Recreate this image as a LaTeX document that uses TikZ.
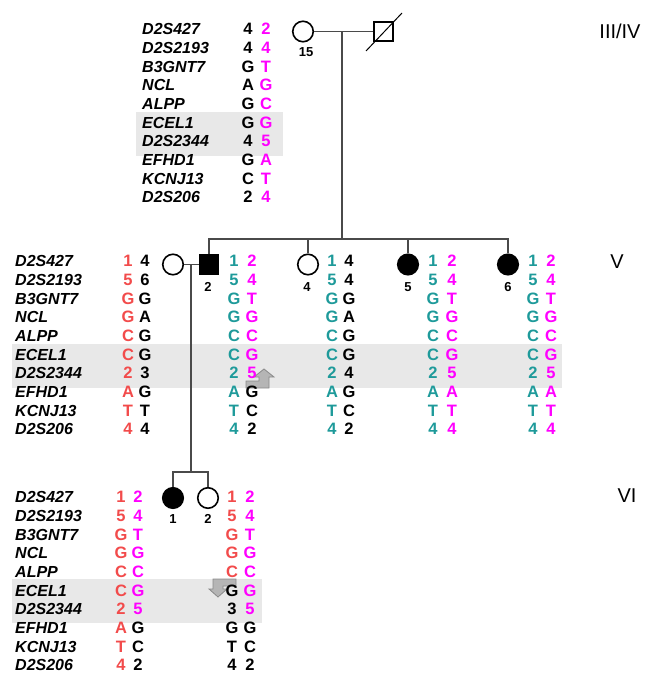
\documentclass[tikz,border=0pt]{standalone}
\usepackage{fontspec}
\setmainfont{Liberation Sans}

\definecolor{rd}{HTML}{F24B4B}
\definecolor{mg}{HTML}{FF00FF}
\definecolor{tl}{HTML}{1E9A9A}
\colorlet{bk}{black}
\definecolor{shade}{HTML}{E8E8E8}
\definecolor{pedline}{HTML}{4A4A4A}
\definecolor{arrowfill}{HTML}{B5B5B5}
\definecolor{arrowedge}{HTML}{8A8A8A}

\tikzset{
  marker/.style={anchor=west, inner sep=0pt, text height=0.72em, text depth=0pt,
    font=\fontsize{16}{16}\selectfont\bfseries\itshape},
  allele/.style={anchor=center, inner sep=0pt, text height=0.72em, text depth=0pt,
    font=\fontsize{16.5}{16}\selectfont\bfseries},
  idlabel/.style={inner sep=0pt, text height=0.72em, text depth=0pt,
    font=\fontsize{13}{13}\selectfont\bfseries},
  genlabel/.style={inner sep=0pt, text height=0.72em, text depth=0pt,
    font=\fontsize{20}{20}\selectfont},
  female/.style={circle, draw=black, line width=1.6pt, minimum size=20.5pt, inner sep=0pt},
  male/.style={rectangle, draw=black, line width=1.6pt, minimum size=19pt, inner sep=0pt},
  affected/.style={fill=black},
  pedigree/.style={draw=pedline, line width=1.3pt},
  shadebox/.style={fill=shade, draw=none},
  crossover/.style={fill=arrowfill, draw=arrowedge, line width=0.8pt, line join=miter},
}

% column of marker names, starting at row y0
\newcommand{\markernames}[3]{%
  \foreach \m [count=\i] in {D2S427,D2S2193,B3GNT7,NCL,ALPP,ECEL1,D2S2344,EFHD1,KCNJ13,D2S206}
    \node[marker] (#1-\i) at (#2, {#3+(\i-1)*18.7}) {\m};%
}
% column of alleles: entries letter/colour
\newcommand{\allelecol}[4]{%
  \foreach \a/\c [count=\i] in {#4}
    \node[allele, text=\c] (#1-\i) at (#2, {#3+(\i-1)*18.7}) {\a};%
}

\begin{document}
\begin{tikzpicture}[x=1pt, y=-1pt]
\useasboundingbox (0,0) rectangle (647,675);

% shaded ECEL1 / D2S2344 rows
\fill[shadebox] (136,112) rectangle (283,156);
\fill[shadebox] (12,344) rectangle (562,388);
\fill[shadebox] (12,579) rectangle (262,623);

% recombination arrows
\draw[crossover] (246,388) -- (246,381) -- (259,381) -- (259,377) -- (254,377)
  -- (264,369) -- (274,377) -- (269,377) -- (269,388) -- cycle;
\draw[crossover] (236,579) -- (236,586) -- (223,586) -- (223,589) -- (227,589)
  -- (218,597) -- (209,589) -- (213,589) -- (213,579) -- cycle;

% ---------- generation III/IV ----------
\node[female] (f15) at (303,31.5) {};
\node[male] (m16) at (383.5,31.5) {};
\draw[line width=1pt, black] (m16.center) ++(-17.5,19.5) -- ++(36,-38);
\draw[pedigree] (f15.east) -- (m16.west);
\node[idlabel] (l15) at (306,53) {15};

\markernames{m3}{142}{31}
\allelecol{p15a}{248}{31}{4/bk,4/bk,G/bk,A/bk,G/bk,G/bk,4/bk,G/bk,C/bk,2/bk}
\allelecol{p15b}{266}{31}{2/mg,4/mg,T/mg,G/mg,C/mg,G/mg,5/mg,A/mg,T/mg,4/mg}

% ---------- generation V ----------
\node[female] (sp) at (173,264.5) {};
\node[male, affected] (v2) at (209,264.5) {};
\node[female] (v4) at (308,264.5) {};
\node[female, affected] (v5) at (408,264.5) {};
\node[female, affected] (v6) at (508,264.5) {};

\node[idlabel] (lv2) at (208,288) {2};
\node[idlabel] (lv4) at (307,288) {4};
\node[idlabel] (lv5) at (408,288) {5};
\node[idlabel] (lv6) at (508,288) {6};

\coordinate (u3) at (342,31.5);
\coordinate (s5) at (342,239);
\draw[pedigree] (u3) -- (s5);
\draw[pedigree] (v2.north) -- (v2.north |- s5) -- (v6.north |- s5) -- (v6.north);
\draw[pedigree] (v4.north) -- (v4.north |- s5);
\draw[pedigree] (v5.north) -- (v5.north |- s5);
\draw[pedigree] (sp.east) -- (v2.west);

\markernames{m5}{15}{263}
\allelecol{spa}{128}{263}{1/rd,5/rd,G/rd,G/rd,C/rd,C/rd,2/rd,A/rd,T/rd,4/rd}
\allelecol{spb}{145}{263}{4/bk,6/bk,G/bk,A/bk,G/bk,G/bk,3/bk,G/bk,T/bk,4/bk}
\allelecol{v2a}{234}{263}{1/tl,5/tl,G/tl,G/tl,C/tl,C/tl,2/tl,A/tl,T/tl,4/tl}
\allelecol{v2b}{252}{263}{2/mg,4/mg,T/mg,G/mg,C/mg,G/mg,5/mg,G/bk,C/bk,2/bk}
\allelecol{v4a}{332}{263}{1/tl,5/tl,G/tl,G/tl,C/tl,C/tl,2/tl,A/tl,T/tl,4/tl}
\allelecol{v4b}{349}{263}{4/bk,4/bk,G/bk,A/bk,G/bk,G/bk,4/bk,G/bk,C/bk,2/bk}
\allelecol{v5a}{433}{263}{1/tl,5/tl,G/tl,G/tl,C/tl,C/tl,2/tl,A/tl,T/tl,4/tl}
\allelecol{v5b}{452}{263}{2/mg,4/mg,T/mg,G/mg,C/mg,G/mg,5/mg,A/mg,T/mg,4/mg}
\allelecol{v6a}{533}{263}{1/tl,5/tl,G/tl,G/tl,C/tl,C/tl,2/tl,A/tl,T/tl,4/tl}
\allelecol{v6b}{551}{263}{2/mg,4/mg,T/mg,G/mg,C/mg,G/mg,5/mg,A/mg,T/mg,4/mg}

% ---------- generation VI ----------
\node[female, affected] (w1) at (173,498) {};
\node[female] (w2) at (208,498) {};
\node[idlabel] (lw1) at (173,520) {1};
\node[idlabel] (lw2) at (208,520) {2};

\coordinate (u5) at (191,264.5);
\coordinate (s6) at (191,472);
\draw[pedigree] (u5) -- (s6);
\draw[pedigree] (w1.north) -- (w1.north |- s6) -- (w2.north |- s6) -- (w2.north);

\markernames{m6}{15}{499}
\allelecol{w1a}{121}{499}{1/rd,5/rd,G/rd,G/rd,C/rd,C/rd,2/rd,A/rd,T/rd,4/rd}
\allelecol{w1b}{138}{499}{2/mg,4/mg,T/mg,G/mg,C/mg,G/mg,5/mg,G/bk,C/bk,2/bk}
\allelecol{w2a}{232}{499}{1/rd,5/rd,G/rd,G/rd,C/rd,G/bk,3/bk,G/bk,T/bk,4/bk}
\allelecol{w2b}{250}{499}{2/mg,4/mg,T/mg,G/mg,C/mg,G/mg,5/mg,G/bk,C/bk,2/bk}

% generation labels
\node[genlabel] (g34) at (620,35) {III/IV};
\node[genlabel] (g5) at (617,265) {V};
\node[genlabel] (g6) at (627,499) {VI};
\end{tikzpicture}
\end{document}
